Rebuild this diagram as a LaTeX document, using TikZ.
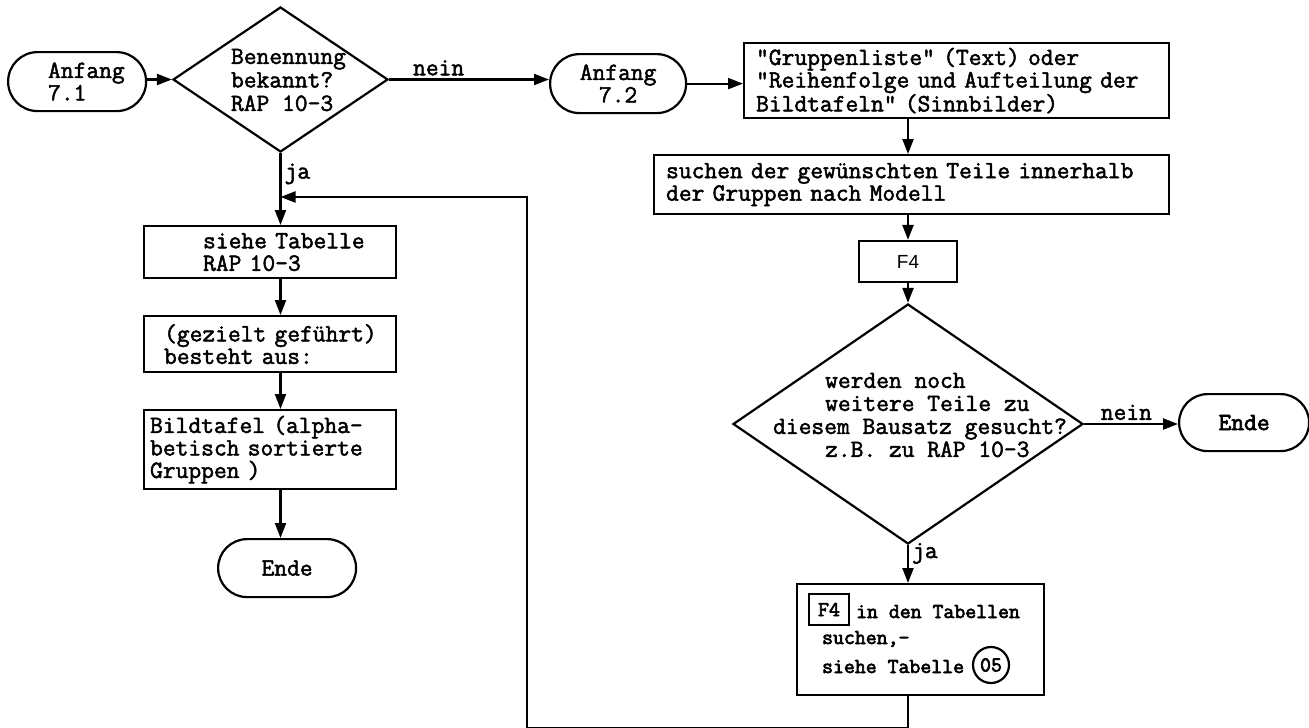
\documentclass[tikz,border=0pt]{standalone}
\usepackage{fontspec}
\newfontfamily\tw[FakeBold=2]{Latin Modern Mono}
\newfontfamily\twb[FakeBold=3]{Latin Modern Mono}
\newfontfamily\fsans{Liberation Sans}
\usetikzlibrary{arrows.meta,shapes.geometric}
\begin{document}
\begin{tikzpicture}[x=1pt,y=-1pt,line width=2.2pt,
  arr/.style={-{Triangle[length=15pt,width=11pt]}},
  twfont/.style={font=\tw\fontsize{24.8}{22.5}\selectfont},
  box/.style={draw,rectangle,anchor=north west,align=left,inner xsep=6pt,inner ysep=2pt,twfont},
  term/.style={box,align=center},
  dia/.style={draw,diamond,inner sep=0pt},
  txt/.style={inner sep=0pt,align=left,twfont},
  lbl/.style={inner sep=3pt,twfont},
  bold/.style={inner sep=0pt,font=\twb\fontsize{21.2}{20}\selectfont}]
\fill[white] (0,0) rectangle (1309,728);
\useasboundingbox (0,0) rectangle (1309,728);

% left column
\node[box,text width=126pt,minimum height=59pt,rounded corners=29.5pt] (a71) at (7,51) {\hspace*{34pt}Anfang\\\hspace*{34pt}7.1};
\node[dia,minimum width=215pt,minimum height=145pt] (d1) at (280.5,79.5) {};
\node[txt,font=\tw\fontsize{24.8}{23.5}\selectfont] (d1t) at (288.5,80) {Benennung\\bekannt?\\RAP 10-3};
\node[box,text width=240pt,minimum height=52pt] (b1l) at (143,225) {\hspace*{53pt}siehe Tabelle\\\hspace*{53pt}RAP 10-3};
\node[box,text width=240pt,minimum height=56pt] (b2l) at (143,315) {\hspace*{14pt}(gezielt geführt)\\\hspace*{14pt}besteht aus:};
\node[box,text width=240pt,minimum height=79pt] (b3l) at (143,409) {Bildtafel (alpha-\\betisch sortierte\\Gruppen )};
\node[term,text width=126pt,minimum height=58pt,rounded corners=29pt] (endel) at (217,538) {Ende};

% right column
\node[term,text width=124pt,minimum height=59pt,rounded corners=29.5pt] (a72) at (549,53) {Anfang\\7.2};
\node[box,text width=413pt,minimum height=75pt] (b1r) at (743,42) {\hspace*{6pt}"Gruppenliste" (Text) oder\\\hspace*{6pt}"Reihenfolge und Aufteilung der\\\hspace*{6pt}Bildtafeln" (Sinnbilder)};
\node[box,text width=503pt,minimum height=59pt] (b2r) at (653,154) {\hspace*{6pt}suchen der gewünschten Teile innerhalb\\\hspace*{6pt}der Gruppen nach Modell};
\node[draw,rectangle,minimum width=98pt,minimum height=41pt,inner sep=0pt,font=\fsans\fontsize{19}{20}\selectfont] (f4) at (908,261.5) {F4};
\node[dia,minimum width=350pt,minimum height=240pt] (d2) at (908,424) {};
\node[txt,font=\tw\fontsize{24.8}{23}\selectfont] (d2t) at (920,415) {\hspace*{52pt}werden noch\\\hspace*{52pt}weitere Teile zu\\diesem Bausatz gesucht?\\\hspace*{52pt}z.B. zu RAP 10-3};
\node[term,text width=118pt,minimum height=57pt,rounded corners=28.5pt,font=\twb\fontsize{24.8}{22}\selectfont] (ender) at (1178,393) {Ende};
\node[draw,rectangle,anchor=north west,minimum width=247pt,minimum height=111pt,inner sep=0pt] (b4r) at (796,583) {};
\node[draw,rectangle,minimum width=40pt,minimum height=31pt,inner sep=0pt,font=\twb\fontsize{21.2}{20}\selectfont] (f4s) at (829,609.5) {F4};
\node[bold,anchor=base west] (t1) at (855,618) {in den Tabellen};
\node[bold,anchor=base west] (t2) at (821,644) {suchen,-};
\node[bold,anchor=base west] (t3) at (821,673) {siehe Tabelle};
\node[draw,circle,minimum size=36pt,inner sep=0pt,font=\twb\fontsize{21.2}{20}\selectfont] (c05) at (991,665) {05};

% connectors
\draw[arr] (a71.east |- d1.west) -- (d1.west);
\draw[arr] (d1.east) -- node[lbl,above,pos=0.31] (n1) {nein} (d1.east -| a72.west);
\draw[arr] (d1.south) -- node[lbl,right,pos=0.29] (j1) {ja} (d1.south |- b1l.north);
\draw[arr] (b1l.south -| d1.south) -- (b2l.north -| d1.south);
\draw[arr] (b2l.south -| d1.south) -- (b3l.north -| d1.south);
\draw[arr] (b3l.south -| d1.south) -- (endel.north -| d1.south);
\draw[arr] (a72.east) -- (a72.east -| b1r.west);
\draw[arr] (b1r.south -| d2.north) -- (b2r.north -| d2.north);
\draw[arr] (b2r.south -| f4.north) -- (f4.north);
\draw[arr] (f4.south) -- (d2.north);
\draw[arr] (d2.east) -- node[lbl,above,pos=0.45] (n2) {nein} (d2.east -| ender.west);
\draw[arr] (d2.south) -- node[lbl,right,pos=0.22] (j2) {ja} (d2.south |- b4r.north);
\coordinate (lb) at (527,728.5);
\coordinate (fb) at (280.5,197);
\draw[arr] (b4r.south -| d2.south) |- (lb) |- (fb);
\end{tikzpicture}
\end{document}
